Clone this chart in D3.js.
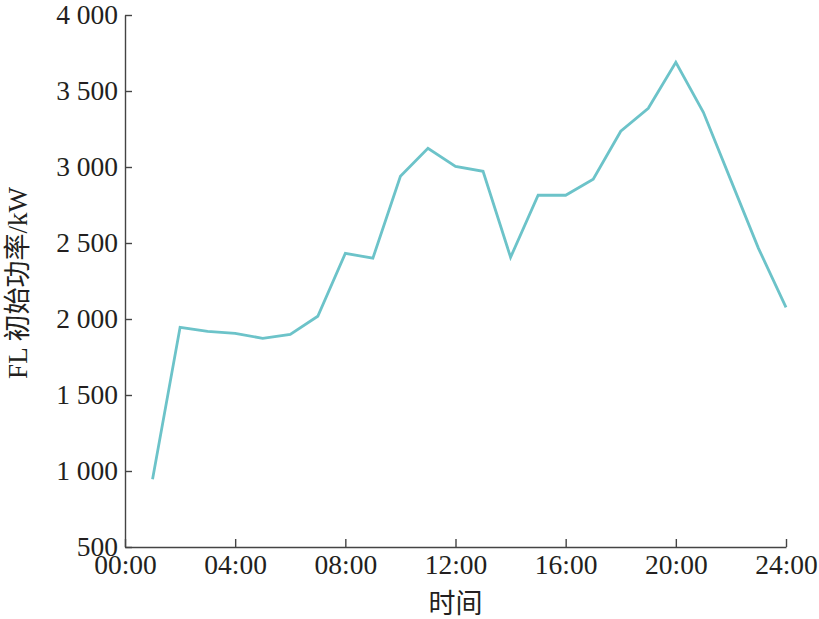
<!DOCTYPE html>
<html><head><meta charset="utf-8">
<script src="https://cdn.jsdelivr.net/npm/d3@7"></script>
<style>
body{margin:0;background:#fff;}
svg{display:block;}
text{font-family:"Liberation Serif","Noto Sans CJK SC",serif;fill:#231f20;}
</style></head>
<body><svg id="c" width="819" height="619"></svg>
<script>
const hours = [1,2,3,4,5,6,7,8,9,10,11,12,13,14,15,16,17,18,19,20,21,22,23,24];
const power = [945,1945,1919,1906,1873,1899,2018,2432,2400,2939,3123,3004,2972,2406,2814,2814,2919,3235,3386,3689,3360,2912,2465,2077];
const xTicks = [0,4,8,12,16,20,24];
const xTickLabels = ["00:00","04:00","08:00","12:00","16:00","20:00","24:00"];
const yTicks = [500,1000,1500,2000,2500,3000,3500,4000];
const xTitle = "时间";
const yTitle = "FL 初始功率/kW";

const svg = d3.select("#c");
const L = 125, R = 786, T = 15, B = 547;
const x = d3.scaleLinear().domain([0,24]).range([L,R]);
const y = d3.scaleLinear().domain([500,4000]).range([B,T]);
const fmt = v => v >= 1000 ? (Math.floor(v/1000) + " " + String(v%1000).padStart(3,"0")) : String(v);

const gx = svg.append("g").attr("transform",`translate(0,${B})`)
  .call(d3.axisBottom(x).tickValues(xTicks).tickFormat((d,i)=>xTickLabels[i]).tickSizeInner(-8).tickSizeOuter(0).tickPadding(7));
const gy = svg.append("g").attr("transform",`translate(${L},0)`)
  .call(d3.axisLeft(y).tickValues(yTicks).tickFormat(fmt).tickSizeInner(-7).tickSizeOuter(0).tickPadding(7));
[gx,gy].forEach(g=>{
  g.selectAll("path,line").attr("stroke","#444").attr("stroke-width",1.4);
  g.selectAll("text").attr("font-size",27.5).attr("font-family",'"Liberation Serif",serif').attr("fill","#231f20");
});

svg.append("path").datum(hours.map((h,i)=>[h,power[i]]))
  .attr("fill","none").attr("stroke","#6cc3c9").attr("stroke-width",2.8)
  .attr("stroke-linejoin","miter")
  .attr("d", d3.line().x(d=>x(d[0])).y(d=>y(d[1])));

svg.append("text").attr("x",(L+R)/2).attr("y",613).attr("text-anchor","middle")
  .attr("font-size",27).text(xTitle);
svg.append("text").attr("transform",`translate(27,${(T+B)/2+2}) rotate(-90)`).attr("text-anchor","middle")
  .attr("font-size",27).text(yTitle);
</script></body></html>
